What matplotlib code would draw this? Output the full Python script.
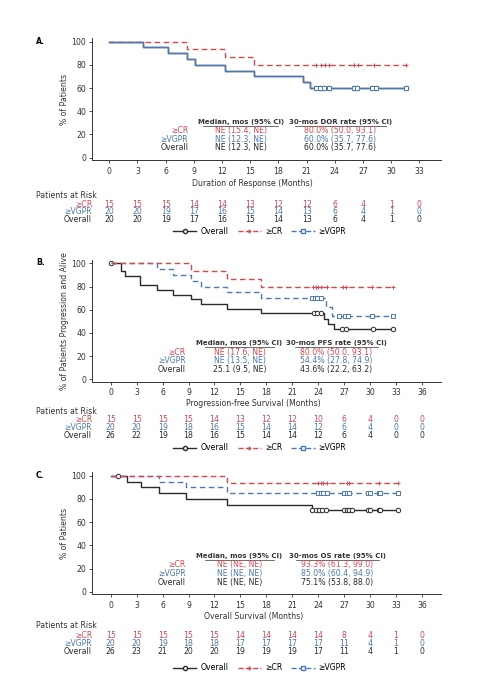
import matplotlib
matplotlib.use("Agg")
import matplotlib.pyplot as plt
from matplotlib.lines import Line2D
from matplotlib.transforms import blended_transform_factory as btf

RED = "#d9474b"; BLUE = "#4a78b8"; BLACK = "#2b2b2b"
W, H = 490, 680

# ---------------- data ----------------
# Panel A (DOR)
A_all_t = [0, 3.6, 6.2, 8.3, 9.1, 12.3, 15.4, 20.6, 21.4, 31.6]
A_all_s = [100, 95, 90, 85, 80, 75, 70, 65, 60, 60]
A_all_c = [22.0, 22.4, 22.8, 23.4, 26.0, 26.4, 28.0, 28.4, 31.6]
A_vg_t = A_all_t; A_vg_s = A_all_s; A_vg_c = A_all_c
A_cr_t = [0, 8.3, 12.3, 15.4, 31.6]
A_cr_s = [100, 93.3, 86.7, 80, 80]
A_cr_c = [22.0, 22.5, 23.0, 23.4, 26.0, 26.5, 28.2, 31.6]

# Panel B (PFS)
B_all_t = [0, 1.2, 1.7, 3.4, 5.4, 7.2, 9.3, 10.4, 13.4, 17.4, 24.7, 25.1, 25.8, 32.7]
B_all_s = [100, 93, 89, 81, 77, 73, 69, 65, 61, 57, 52, 48, 43.6, 43.6]
B_all_c = [0, 23.5, 23.9, 24.3, 26.7, 27.2, 30.3, 32.7]
B_cr_t = [0, 9.3, 13.4, 17.4, 32.7]
B_cr_s = [100, 93.3, 86.7, 80, 80]
B_cr_c = [23.4, 23.7, 24.0, 24.3, 25.0, 26.9, 27.2, 30.2, 32.7]
B_vg_t = [0, 5.4, 7.2, 9.3, 10.4, 13.4, 17.4, 24.9, 25.6, 32.7]
B_vg_s = [100, 95, 90, 85, 80, 75, 70, 62, 54.4, 54.4]
B_vg_c = [23.3, 23.6, 23.9, 24.3, 26.4, 27.1, 27.4, 30.2, 32.7]

# Panel C (OS)
C_all_t = [0, 1.9, 3.5, 5.6, 8.7, 13.5, 23.3, 33.2]
C_all_s = [100, 95, 90, 85, 80, 75, 70.8, 70.8]
C_all_c = [0.8, 23.3, 23.8, 24.1, 24.4, 24.9, 27.0, 27.3, 27.6, 27.9, 29.7, 30.0, 31.0, 31.2, 33.2]
C_cr_t = [0, 13.5, 33.2]
C_cr_s = [100, 93.3, 93.3]
C_cr_c = [24.0, 24.3, 24.6, 25.0, 27.3, 27.6, 31.0, 33.2]
C_vg_t = [0, 5.6, 8.7, 13.5, 33.2]
C_vg_s = [100, 95, 90, 85, 85]
C_vg_c = [24.0, 24.3, 24.6, 25.0, 27.0, 27.3, 27.6, 29.7, 30.0, 31.0, 31.2, 33.2]

A_risk = {"≥CR": [15, 15, 15, 14, 14, 13, 12, 12, 6, 4, 1, 0],
          "≥VGPR": [20, 20, 19, 17, 16, 15, 14, 13, 6, 4, 1, 0],
          "Overall": [20, 20, 19, 17, 16, 15, 14, 13, 6, 4, 1, 0]}
B_risk = {"≥CR": [15, 15, 15, 15, 14, 13, 12, 12, 10, 6, 4, 0, 0],
          "≥VGPR": [20, 20, 19, 18, 16, 15, 14, 14, 12, 6, 4, 0, 0],
          "Overall": [26, 22, 19, 18, 16, 15, 14, 14, 12, 6, 4, 0, 0]}
C_risk = {"≥CR": [15, 15, 15, 15, 15, 14, 14, 14, 14, 8, 4, 1, 0],
          "≥VGPR": [20, 20, 19, 18, 18, 17, 17, 17, 17, 11, 4, 1, 0],
          "Overall": [26, 23, 21, 20, 20, 19, 19, 19, 17, 11, 4, 1, 0]}

A_tab = [("≥CR", "NE (15.4, NE)", "80.0% (50.0, 93.1)"),
         ("≥VGPR", "NE (12.3, NE)", "60.0% (35.7, 77.6)"),
         ("Overall", "NE (12.3, NE)", "60.0% (35.7, 77.6)")]
B_tab = [("≥CR", "NE (17.6, NE)", "80.0% (50.0, 93.1)"),
         ("≥VGPR", "NE (13.5, NE)", "54.4% (27.8, 74.9)"),
         ("Overall", "25.1 (9.5, NE)", "43.6% (22.2, 63.2)")]
C_tab = [("≥CR", "NE (NE, NE)", "93.3% (61.3, 99.0)"),
         ("≥VGPR", "NE (NE, NE)", "85.0% (60.4, 94.9)"),
         ("Overall", "NE (NE, NE)", "75.1% (53.8, 88.0)")]

COL = {"≥CR": RED, "≥VGPR": BLUE, "Overall": BLACK}

fig = plt.figure(figsize=(4.9, 6.8), dpi=100)
plt.rcParams['font.family'] = ['DejaVu Sans']
FS = 5.6
HFS = 5.0

def fy(px):
    return 1 - px / H

def km(ax, t, s, c, color, ls, marker, z):
    ax.step(t, s, where="post", color=color, ls=ls, lw=1.0, zorder=z,
            dashes=(4, 2.5) if ls == "--" else (None, None))
    cs = []
    for ct in c:
        idx = max(i for i, tt in enumerate(t) if tt <= ct)
        cs.append(s[idx])
    ax.plot(c, cs, ls="none", marker=marker, ms=3.2, mfc="white" if marker != "+" else color,
            mec=color, mew=0.7, color=color, zorder=z + 1)

def panel(letter, top_px, bot_px, xmin, xmax, ticks, curves, tab, header, xlabel,
          risk, tick_px, xl_px, par_px, rows_px, leg_px, tab_x):
    ax = fig.add_axes([91.7 / W, fy(bot_px), (441 - 91.7) / W, (bot_px - top_px) / H])
    ax.set_xlim(xmin, xmax); ax.set_ylim(-2, 103)
    for sp in ("top", "right"):
        ax.spines[sp].set_visible(False)
    for sp in ("left", "bottom"):
        ax.spines[sp].set_linewidth(0.7); ax.spines[sp].set_color("#333")
    ax.set_xticks(ticks); ax.set_yticks(range(0, 101, 20))
    ax.tick_params(labelsize=FS, length=2, width=0.6, colors="#333", pad=2)
    ax.set_xticklabels([])
    for z, (t, s, c, color, ls, m) in enumerate(curves):
        km(ax, t, s, c, color, ls, m, 3 + 2 * z)
    tr = btf(ax.transData, fig.transFigure)
    for x in ticks:
        ax.text(x, fy(tick_px), str(x), transform=tr, ha="center", va="center", fontsize=FS, color="#333")
    ax.text((xmin + xmax) / 2 - 1.5, fy(xl_px), xlabel, transform=tr, ha="center", va="center", fontsize=FS, color="#333")
    fig.text(36 / W, fy(par_px), "Patients at Risk", ha="left", va="center", fontsize=FS, color="#333")
    for (name, vals), ry in zip(risk.items(), rows_px):
        fig.text(92 / W, fy(ry), name, ha="right", va="center", fontsize=FS, color=COL[name])
        for x, v in zip(ticks, vals):
            ax.text(x, fy(ry), str(v), transform=tr, ha="center", va="center", fontsize=FS, color=COL[name])
    lx, mx, rx = tab_x
    ax.text(mx, 31, "Median, mos (95% CI)", ha="center", va="center", fontsize=HFS, color="#333", weight="bold")
    ax.text(rx, 31, header, ha="center", va="center", fontsize=HFS, color="#333", weight="bold")
    ax.plot([mx - 4.0, mx + 4.0], [27.5, 27.5], color="#333", lw=0.5)
    ax.plot([rx - 4.8, rx + 4.8], [27.5, 27.5], color="#333", lw=0.5)
    for (name, med, rate), yy in zip(tab, [23.5, 16, 8.5]):
        ax.text(lx, yy, name, ha="right", va="center", fontsize=FS, color=COL[name])
        ax.text(mx, yy, med, ha="center", va="center", fontsize=FS, color=COL[name])
        ax.text(rx, yy, rate, ha="center", va="center", fontsize=FS, color=COL[name])
    ax.set_ylabel(curves_ylabel[letter], fontsize=FS, color="#333", labelpad=2)
    fig.text(36 / W, fy(top_px + 3), letter + ".", fontsize=FS, weight="bold", va="center")
    handles = [Line2D([], [], color=BLACK, lw=1, marker="o", ms=3, mfc="white", mec=BLACK),
               Line2D([], [], color=RED, lw=1, ls="--", marker="+", ms=3),
               Line2D([], [], color=BLUE, lw=1, ls="--", marker="s", ms=3, mfc="white", mec=BLUE)]
    fig.legend(handles, ["Overall", "≥CR", "≥VGPR"], loc="center", bbox_to_anchor=(0.53, fy(leg_px)),
               ncol=3, frameon=False, fontsize=FS, handlelength=3, columnspacing=1.2, handletextpad=0.5)
    return ax

curves_ylabel = {"A": "% of Patients", "B": "% of Patients Progression and Alive", "C": "% of Patients"}

panel("A", 38.2, 160, -1.87, 35.3, list(range(0, 34, 3)),
      [(A_all_t, A_all_s, A_all_c, BLACK, "-", "o"),
       (A_cr_t, A_cr_s, A_cr_c, RED, "--", "+"),
       (A_vg_t, A_vg_s, A_vg_c, BLUE, "-", "s")],
      A_tab, "30-mos DOR rate (95% CI)", "Duration of Response (Months)", A_risk,
      171, 184, 196, [204, 212, 220], 231, (8.4, 14.0, 24.6))

panel("B", 259.8, 381.7, -2.2, 38.2, list(range(0, 37, 3)),
      [(B_all_t, B_all_s, B_all_c, BLACK, "-", "o"),
       (B_vg_t, B_vg_s, B_vg_c, BLUE, "--", "s"),
       (B_cr_t, B_cr_s, B_cr_c, RED, "--", "+")],
      B_tab, "30-mos PFS rate (95% CI)", "Progression-free Survival (Months)", B_risk,
      393, 404, 411, [420, 428, 436], 448, (8.7, 14.9, 26.1))

panel("C", 472.2, 594.3, -2.2, 38.2, list(range(0, 37, 3)),
      [(C_all_t, C_all_s, C_all_c, BLACK, "-", "o"),
       (C_vg_t, C_vg_s, C_vg_c, BLUE, "--", "s"),
       (C_cr_t, C_cr_s, C_cr_c, RED, "--", "+")],
      C_tab, "30-mos OS rate (95% CI)", "Overall Survival (Months)", C_risk,
      606, 616, 625, [636, 644, 652], 668, (8.7, 14.9, 26.2))

fig.savefig("out.png", dpi=100, facecolor="white")
